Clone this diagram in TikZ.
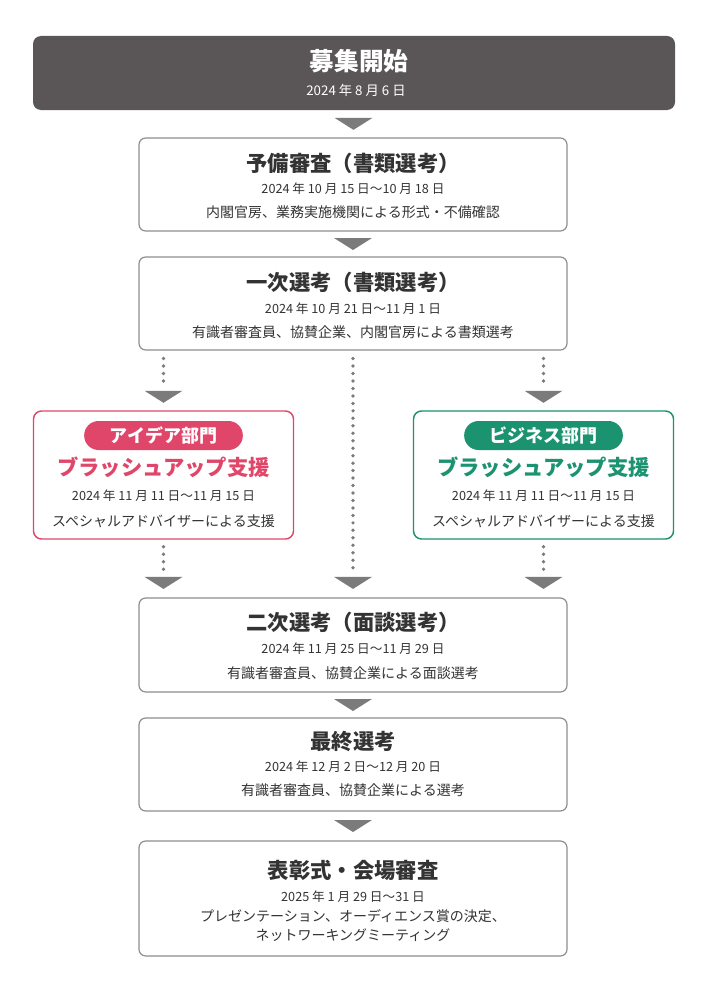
\documentclass[tikz,border=0pt]{standalone}
\usepackage{fontspec}
\setmainfont{Noto Sans CJK JP}
\usetikzlibrary{calc}
\definecolor{topc}{HTML}{5A5657}
\definecolor{boxline}{HTML}{8E8E8E}
\definecolor{arrowc}{HTML}{7B7B7B}
\definecolor{txt}{HTML}{333333}
\definecolor{pinkc}{HTML}{E0466A}
\definecolor{greenc}{HTML}{1B9270}
\tikzset{
  stagebox/.style={draw=boxline, line width=0.9pt, rounded corners=5pt, fill=white, minimum width=321pt, inner sep=0pt},
  topbox/.style={fill=topc, rounded corners=6pt, minimum width=481.5pt, minimum height=55.5pt, inner sep=0pt},
  sidebox/.style={draw=#1, line width=1.1pt, rounded corners=6pt, fill=white, minimum width=195pt, minimum height=96pt, inner sep=0pt},
  pill/.style={fill=#1, rounded corners=10.8pt, minimum width=119pt, minimum height=21.75pt, inner sep=0pt, text=white, font=\fontsize{13.5}{15}\selectfont\bfseries},
  ttl/.style={text=txt, font=\fontsize{16}{18}\selectfont\bfseries, inner sep=0pt},
  dte/.style={text=txt, font=\fontsize{9.5}{11}\selectfont, inner sep=0pt},
  dsc/.style={text=txt, font=\fontsize{10.5}{12}\selectfont, inner sep=0pt},
  subttl/.style={text=#1, font=\fontsize{16}{18}\selectfont\bfseries, inner sep=0pt},
  dots/.style={draw=arrowc, line width=2.8pt, line cap=round, dash pattern=on 0pt off 5.6pt},
}
\newcommand{\downtri}[1]{\fill[arrowc] ($(#1)+(-19,-6)$) -- ($(#1)+(19,-6)$) -- ($(#1)+(0,6)$) -- cycle;}
\begin{document}
\begin{tikzpicture}[x=0.75pt, y=-0.75pt]
\useasboundingbox (0,0) rectangle (707,981);
% boxes
\node[topbox] (top) at (354,73) {};
\node[stagebox, minimum height=69.75pt] (b2) at (353,184.5) {};
\node[stagebox, minimum height=69.75pt] (b3) at (353,303.5) {};
\node[sidebox=pinkc] (left) at (163.5,475) {};
\node[sidebox=greenc] (right) at (543.5,475) {};
\node[stagebox, minimum height=70.5pt] (b4) at (353,645) {};
\node[stagebox, minimum height=69.75pt] (b5) at (353,764.5) {};
\node[stagebox, minimum height=86.25pt] (b6) at (353,898.5) {};
% texts top
\node[text=white, font=\fontsize{18.5}{21}\selectfont\bfseries, inner sep=0pt] (t1) at (359,61) {募集開始};
\node[text=white, font=\fontsize{10}{12}\selectfont, inner sep=0pt] (t1d) at (356,90) {2024 年 8 月 6 日};
% b2
\node[ttl] (t2) at (353,163) {予備審査（書類選考）};
\node[dte] (t2d) at (353,189) {2024 年 10 月 15 日～10 月 18 日};
\node[dsc] (t2x) at (353,212) {内閣官房、業務実施機関による形式・不備確認};
% b3
\node[ttl] (t3) at (353,282) {一次選考（書類選考）};
\node[dte] (t3d) at (353,309) {2024 年 10 月 21 日～11 月 1 日};
\node[dsc] (t3x) at (353,332) {有識者審査員、協賛企業、内閣官房による書類選考};
% left
\node[pill=pinkc] (lp) at (163.5,435.5) {アイデア部門};
\node[subttl=pinkc] (lt) at (163.5,467) {ブラッシュアップ支援};
\node[dte] (ld) at (163.5,496) {2024 年 11 月 11 日～11 月 15 日};
\node[dsc] (lx) at (163.5,521) {スペシャルアドバイザーによる支援};
% right
\node[pill=greenc] (rp) at (543.5,435.5) {ビジネス部門};
\node[subttl=greenc] (rt) at (543.5,467) {ブラッシュアップ支援};
\node[dte] (rd) at (543.5,496) {2024 年 11 月 11 日～11 月 15 日};
\node[dsc] (rx) at (543.5,521) {スペシャルアドバイザーによる支援};
% b4
\node[ttl] (t4) at (353,622) {二次選考（面談選考）};
\node[dte] (t4d) at (353,649) {2024 年 11 月 25 日～11 月 29 日};
\node[dsc] (t4x) at (353,673) {有識者審査員、協賛企業による面談選考};
% b5
\node[ttl] (t5) at (353,742) {最終選考};
\node[dte] (t5d) at (353,767) {2024 年 12 月 2 日～12 月 20 日};
\node[dsc] (t5x) at (353,790) {有識者審査員、協賛企業による選考};
% b6
\node[ttl] (t6) at (353,870) {表彰式・会場審査};
\node[dte] (t6d) at (353,897) {2025 年 1 月 29 日～31 日};
\node[dsc] (t6x) at (353,916) {プレゼンテーション、オーディエンス賞の決定、};
\node[dsc] (t6y) at (353,935) {ネットワーキングミーティング};
% connectors
\coordinate (a1) at ($(top.south)!0.5!(b2.north)$);
\downtri{a1}
\coordinate (a2) at ($(b2.south)!0.5!(b3.north)$);
\downtri{a2}
\coordinate (a5) at ($(b4.south)!0.5!(b5.north)$);
\downtri{a5}
\coordinate (a6) at ($(b5.south)!0.5!(b6.north)$);
\downtri{a6}
% dotted branches
\coordinate (la) at ($(left.north)+(0,-13.5)$);
\coordinate (ra) at ($(right.north)+(0,-13.5)$);
\draw[dots] ($(b3.south -| left.north)+(0,8)$) -- ($(la)+(0,-12)$);
\downtri{la}
\draw[dots] ($(b3.south -| right.north)+(0,8)$) -- ($(ra)+(0,-12)$);
\downtri{ra}
\coordinate (lb) at ($(b4.north -| left.south)+(0,-14.5)$);
\coordinate (rb) at ($(b4.north -| right.south)+(0,-14.5)$);
\coordinate (mb) at ($(b4.north)+(0,-14.5)$);
\draw[dots] ($(left.south)+(0,7)$) -- ($(lb)+(0,-11)$);
\downtri{lb}
\draw[dots] ($(right.south)+(0,7)$) -- ($(rb)+(0,-11)$);
\downtri{rb}
\draw[dots] ($(b3.south)+(0,8)$) -- ($(mb)+(0,-11)$);
\downtri{mb}
\end{tikzpicture}
\end{document}
